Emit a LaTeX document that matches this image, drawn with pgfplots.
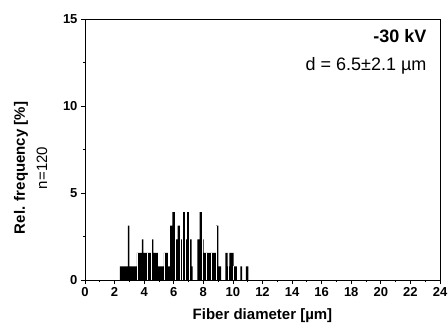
\documentclass[border=0pt]{standalone}
\usepackage{pgfplots}
\pgfplotsset{compat=1.18}
\usepackage{fontspec}
\setmainfont{Liberation Sans}

\pgfplotstableread{
x h
2.35 0.78
2.90 3.12
3.00 0.78
3.50 1.56
3.85 2.34
3.95 1.56
4.50 2.34
4.62 1.56
4.93 0.78
5.33 1.56
5.60 0.78
5.75 3.12
5.90 3.9
6.08 2.34
6.26 3.12
6.42 2.34
6.60 3.9
6.75 2.34
6.90 3.9
7.02 2.34
7.20 0.78
7.27 0
7.60 2.34
7.75 3.9
7.90 2.34
8.02 1.56
8.20 1.56
8.50 1.56
8.87 3.12
9.02 0.78
9.20 0
9.49 1.56
9.65 0.78
9.76 1.56
10.05 0.78
10.27 0
10.50 0.78
10.63 0
10.87 0.78
11.05 0
}\histdata

\begin{document}
\begin{tikzpicture}
\path[use as bounding box] (-85bp,-49bp) rectangle (363bp,280bp);
\begin{axis}[
  at={(0,0)}, anchor=south west,
  scale only axis, width=355bp, height=261bp,
  xmin=0, xmax=24, ymin=0, ymax=15,
  xtick={0,2,...,24}, minor xtick={1,3,...,23},
  ytick={0,5,10,15}, minor ytick={2.5,7.5,12.5},
  tick pos=left, tick align=outside,
  major tick length=4bp, minor tick length=2bp,
  tick style={black, line width=0.8pt},
  axis line style={line width=0.8pt},
  ticklabel style={font=\fontsize{13bp}{15bp}\selectfont\bfseries},
  /pgf/number format/assume math mode=true,
  axis on top, clip=false,
]
\addplot[const plot mark left, fill=black, draw=none] table[x=x, y=h] {\histdata} \closedcycle;
\addplot[ycomb, white, line width=0.35bp] coordinates {(3.5,1.56) (4.2,1.56) (4.5,2.34) (5.33,1.56) (6.08,2.34) (6.42,2.34) (6.6,3.9) (6.75,2.34) (7.02,2.34) (7.9,2.34) (8.2,1.56) (8.5,1.56) (8.87,3.12) (9.65,0.78) (10.05,0.78)};

\node[font=\fontsize{15bp}{17bp}\selectfont\bfseries] at ([yshift=-36bp]rel axis cs:0.5,0) {Fiber diameter [µm]};
\node[font=\fontsize{15bp}{17bp}\selectfont\bfseries, rotate=90] at ([xshift=-64bp]rel axis cs:0,0.429) {Rel. frequency [\%]};
\node[font=\fontsize{15bp}{17bp}\selectfont, rotate=90] at ([xshift=-43bp]rel axis cs:0,0.429) {n=120};
\node[font=\fontsize{18bp}{20bp}\selectfont\bfseries, anchor=east] at ([xshift=-10bp, yshift=-17bp]rel axis cs:1,1) {-30 kV};
\node[font=\fontsize{18bp}{20bp}\selectfont, anchor=east] at ([xshift=-10bp, yshift=-47bp]rel axis cs:1,1) {d = 6.5±2.1 µm};
\end{axis}
\end{tikzpicture}
\end{document}
